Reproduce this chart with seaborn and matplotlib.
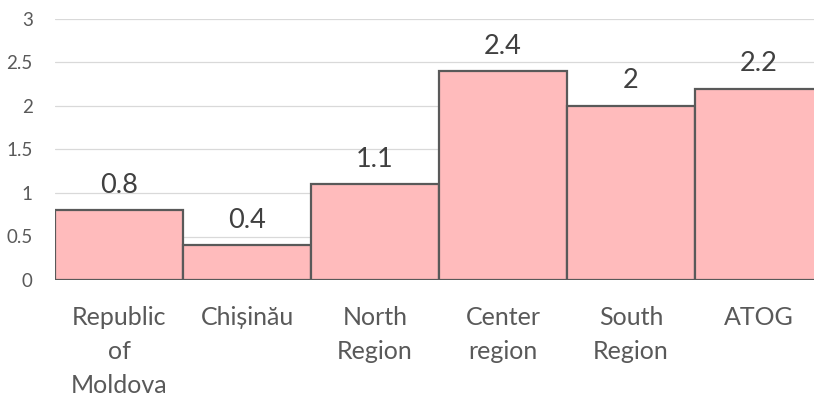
import matplotlib
matplotlib.use("Agg")
import matplotlib.pyplot as plt
import seaborn as sns
import pandas as pd

categories = ["Republic\nof\nMoldova", "Chișinău", "North\nRegion", "Center\nregion", "South\nRegion", "ATOG"]
values = [0.8, 0.4, 1.1, 2.4, 2.0, 2.2]
value_labels = ["0.8", "0.4", "1.1", "2.4", "2", "2.2"]
yticks = [0, 0.5, 1, 1.5, 2, 2.5, 3]
ytick_labels = ["0", "0.5", "1", "1.5", "2", "2.5", "3"]

sns.set_style("white")
plt.rcParams["font.family"] = ["Lato", "DejaVu Sans"]

df = pd.DataFrame({"cat": categories, "val": values})

fig = plt.figure(figsize=(8.14, 4.05), dpi=100)
ax = fig.add_axes([55 / 814, 1 - 280 / 405, 1 - 55 / 814, (280 - 19) / 405])

sns.barplot(data=df, x="cat", y="val", ax=ax, width=1.0, color="#FFBBBC",
            saturation=1, edgecolor="#595959", linewidth=1.6, zorder=3)

ax.set_ylim(0, 3)
ax.set_xlim(-0.5, 5.5 - 9 / 128)
ax.set_yticks(yticks)
ax.set_yticklabels(ytick_labels)
ax.yaxis.grid(True, color="#D9D9D9", linewidth=0.9, zorder=0)
ax.set_axisbelow(True)
for s in ax.spines.values():
    s.set_visible(False)
ax.set_xlabel("")
ax.set_ylabel("")
ax.tick_params(axis="both", length=0)
ax.tick_params(axis="y", labelsize=13.5, labelcolor="#595959", pad=16)
ax.tick_params(axis="x", labelsize=18, labelcolor="#595959", pad=19)
for lbl in ax.get_xticklabels():
    lbl.set_linespacing(1.56)
for lbl in ax.get_yticklabels():
    lbl.set_horizontalalignment("right")

ax.bar_label(ax.containers[0], labels=value_labels, padding=9, fontsize=19.5, color="#404040")

fig.savefig("out.png", dpi=100)
